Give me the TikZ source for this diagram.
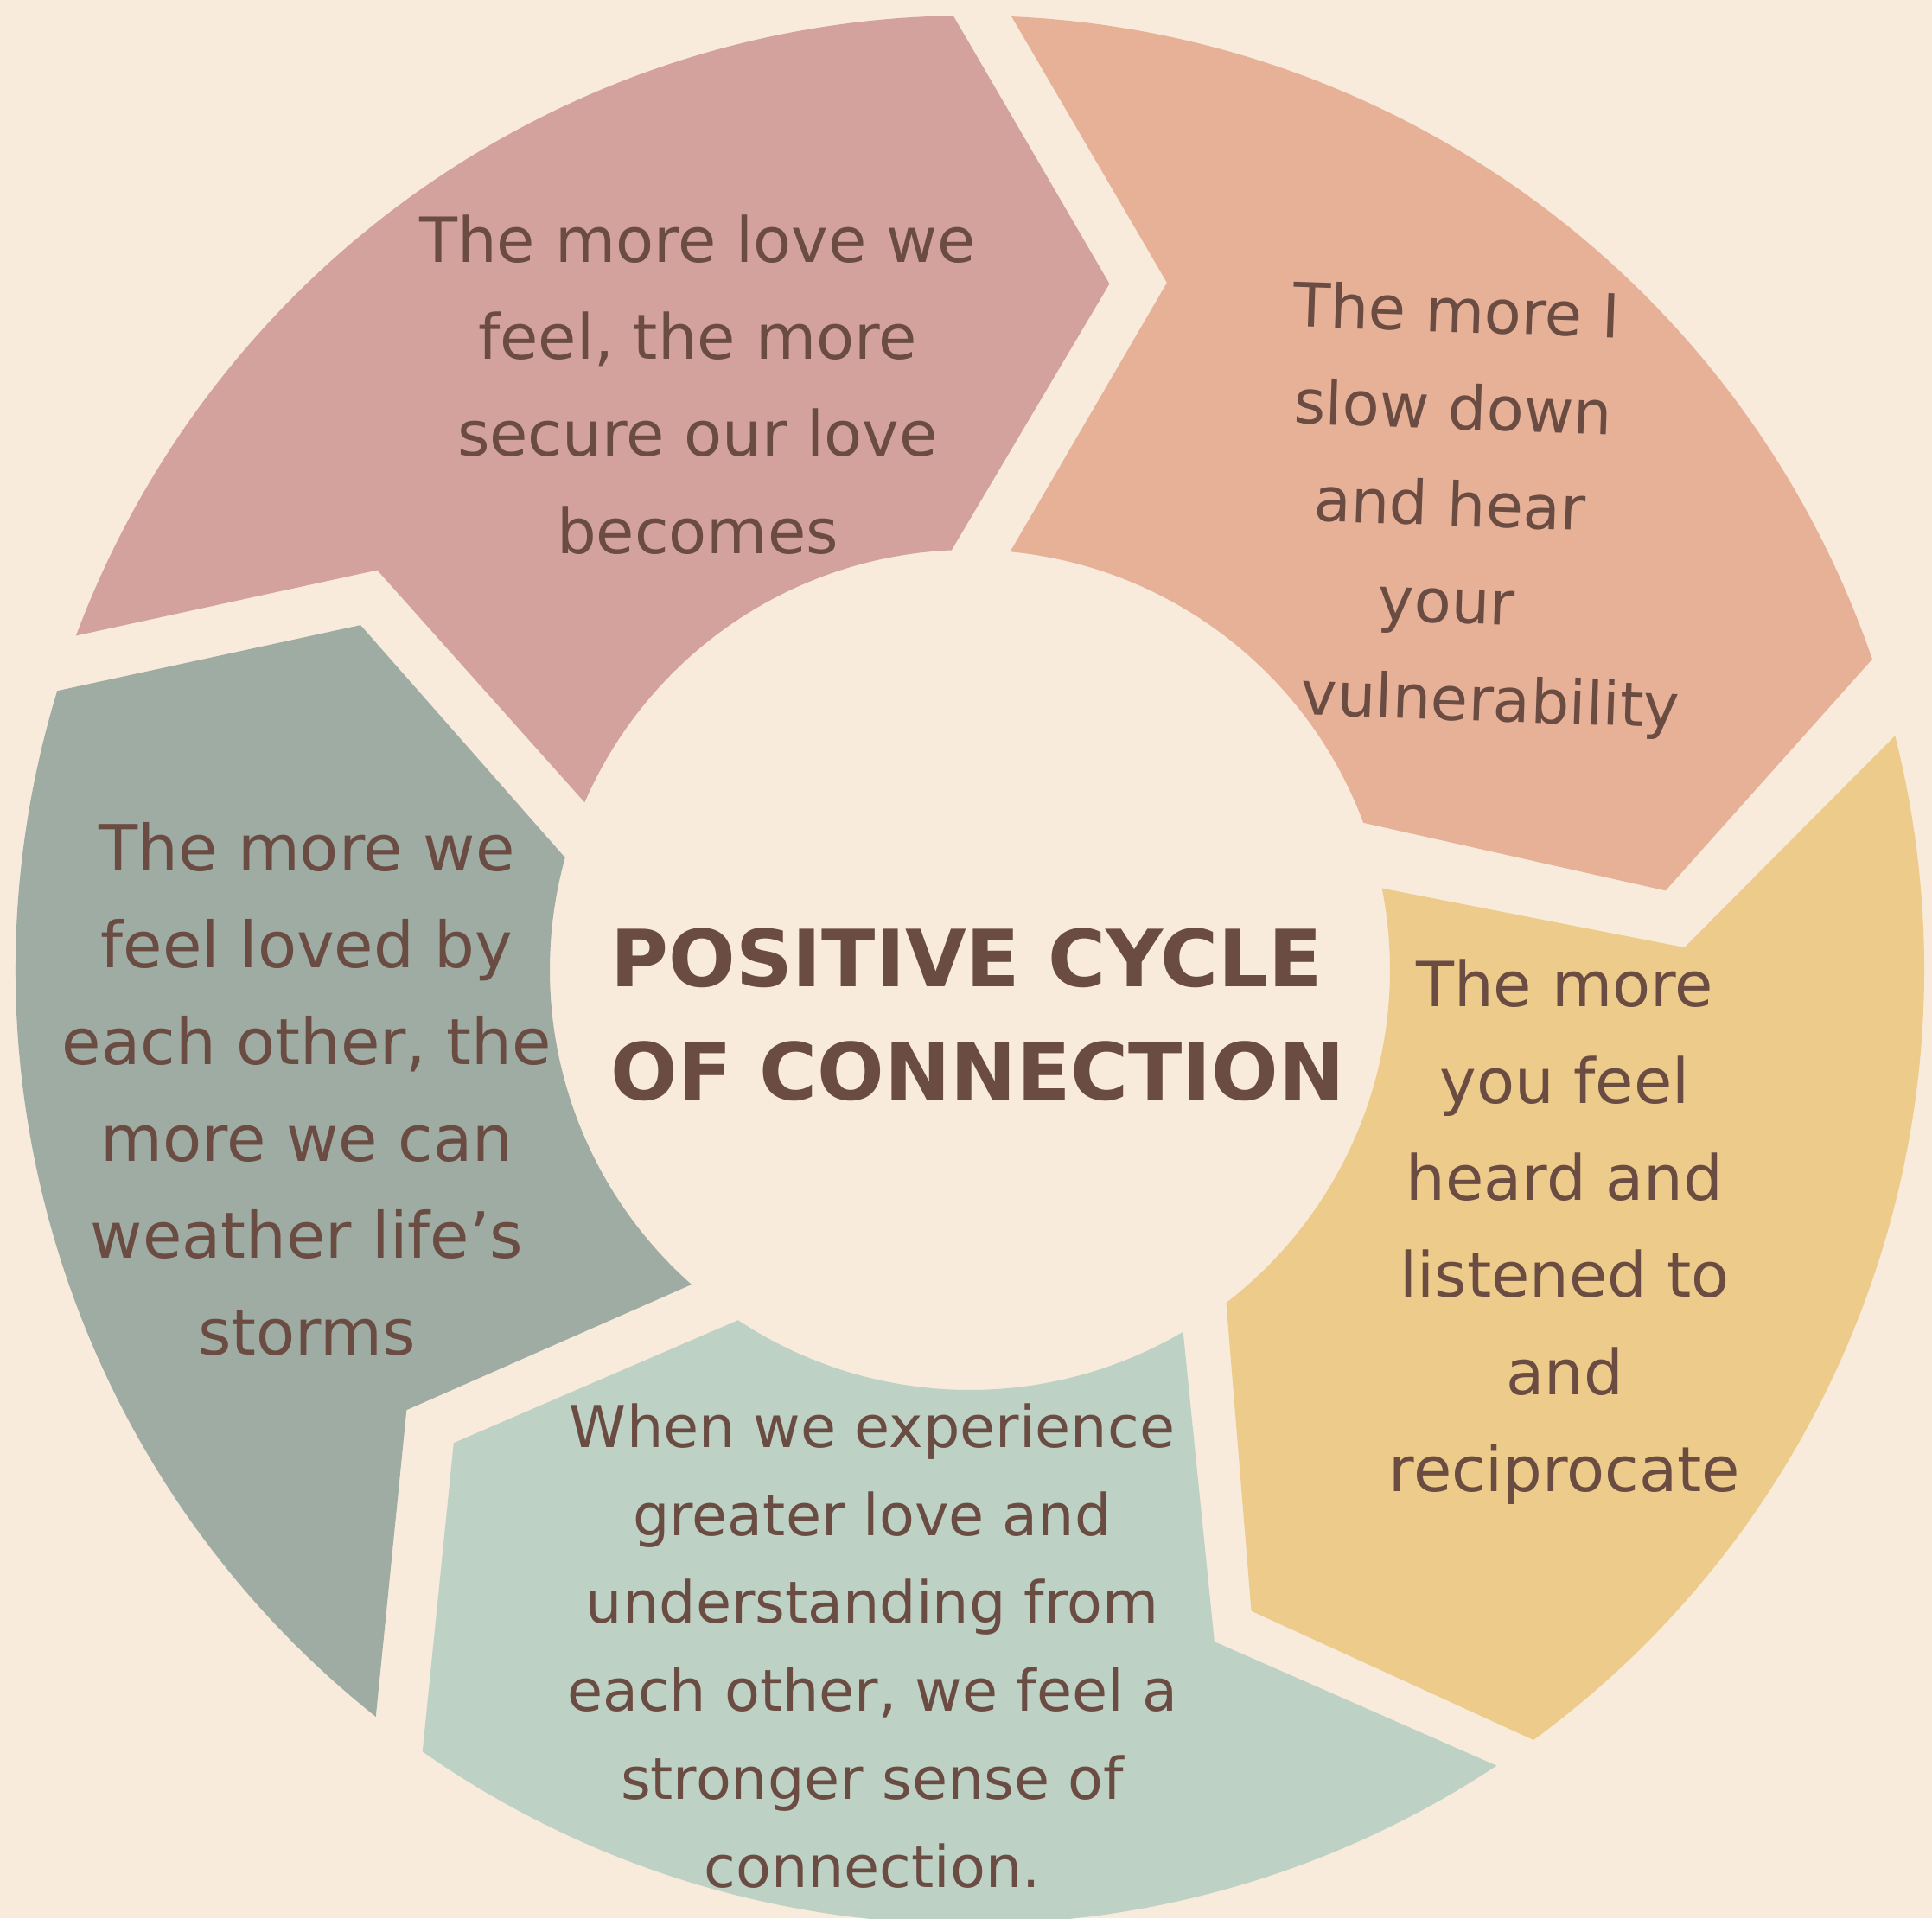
\documentclass[tikz,border=0pt]{standalone}
\usepackage{fontspec}
\setmainfont{DejaVu Sans}
\usetikzlibrary{positioning}

\definecolor{paper}{HTML}{F8EBDC}
\definecolor{ink}{HTML}{6B4C43}
\definecolor{rose}{HTML}{D4A29D}
\definecolor{peach}{HTML}{E7B198}
\definecolor{sand}{HTML}{EDCB8A}
\definecolor{mint}{HTML}{BDD1C4}
\definecolor{sage}{HTML}{9EACA3}

\begin{document}
\begin{tikzpicture}[
    stage/.style={align=center,text=ink,font=\fontsize{20.5}{31.9}\selectfont},
    title/.style={align=left,text=ink,font=\bfseries\fontsize{26}{37.3}\selectfont},
  ]
    \fill[paper] (-11.22,-10.97) rectangle (11.13,11.22);
    \useasboundingbox (-11.22,-10.97) rectangle (11.13,11.22);

    % five arrow segments, notch at the back, point at the front
    \fill[rose] (91:11.04) arc[start angle=91,end angle=159.5,radius=11.04]
      -- (146:8.27) -- (156.5:4.86) arc[start angle=156.5,end angle=92.5,radius=4.86]
      -- (78.5:8.10) -- cycle;
    \fill[peach] (19:11.04) arc[start angle=19,end angle=87.5,radius=11.04]
      -- (74:8.27) -- (84.5:4.86) arc[start angle=84.5,end angle=20.5,radius=4.86]
      -- (6.5:8.10) -- cycle;
    \fill[sand] (-53.8:11.04) arc[start angle=-53.8,end angle=14.2,radius=11.04]
      -- (1.8:8.27) -- (11.2:4.86) arc[start angle=11.2,end angle=-52.4,radius=4.86]
      -- (-66.3:8.10) -- cycle;
    \fill[mint] (-125:11.04) arc[start angle=-125,end angle=-56.5,radius=11.04]
      -- (-70:8.27) -- (-59.5:4.86) arc[start angle=-59.5,end angle=-123.5,radius=4.86]
      -- (-137.5:8.10) -- cycle;
    \fill[sage] (-197:11.04) arc[start angle=-197,end angle=-128.5,radius=11.04]
      -- (-142:8.27) -- (-131.5:4.86) arc[start angle=-131.5,end angle=-195.5,radius=4.86]
      -- (-209.5:8.10) -- cycle;

    % texts
    \node[title,anchor=west] (cycle) at (-4.28,-0.52)
      {POSITIVE CYCLE\\OF CONNECTION};
    \node[stage] (secure) at (-3.15,6.77)
      {The more love we\\feel, the more\\secure our love\\becomes};
    \node[stage,rotate=-2,font=\fontsize{20}{31.9}\selectfont] (slow) at (5.55,5.33)
      {The more I\\slow down\\and hear\\your\\\hspace*{1.1cm}vulnerability};
    \node[stage] (heard) at (6.88,-3.03)
      {The more\\you feel\\heard and\\listened to\\and\\reciprocate};
    \node[stage,font=\fontsize{19}{29}\selectfont] (connect) at (-1.13,-7.82)
      {When we experience\\greater love and\\understanding from\\each other, we feel a\\stronger sense of\\connection.};
    \node[stage,font=\fontsize{21}{31.9}\selectfont] (storms) at (-7.67,-1.38)
      {The more we\\feel loved by\\each other, the\\more we can\\weather life’s\\storms};
\end{tikzpicture}
\end{document}
